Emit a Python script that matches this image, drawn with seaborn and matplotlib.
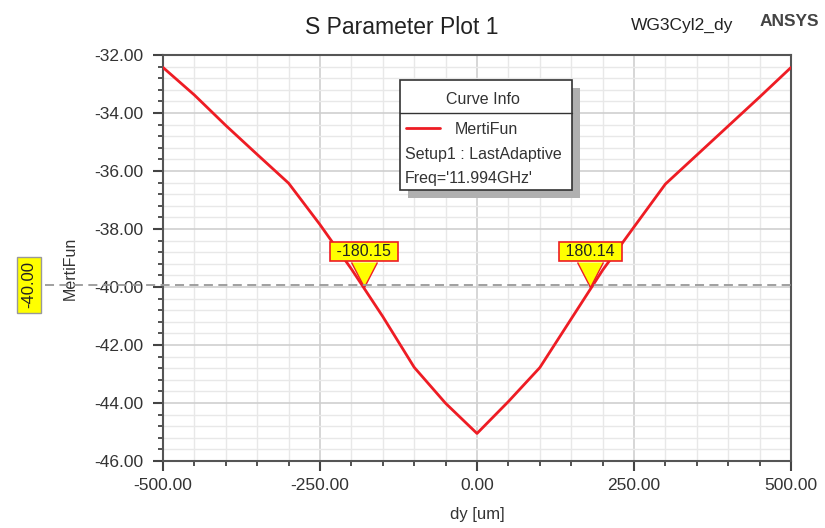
import numpy as np
import pandas as pd
import matplotlib
matplotlib.use("Agg")
import matplotlib.pyplot as plt
import seaborn as sns
from matplotlib.path import Path
from matplotlib.patches import Rectangle
from matplotlib.lines import Line2D
from matplotlib.ticker import MultipleLocator, FormatStrFormatter

dy_um = [-500, -450, -400, -350, -300, -250, -200, -150, -100, -50, 0,
         50, 100, 150, 200, 250, 300, 350, 400, 450, 500]
merti_fun = [-32.43, -33.38, -34.43, -35.43, -36.42, -37.85, -39.38, -41.02, -42.77, -44.01, -45.05,
             -43.95, -42.78, -41.10, -39.42, -37.93, -36.45, -35.45, -34.45, -33.45, -32.43]
threshold = -40.0
crossings = [-180.15, 180.14]
crossing_labels = ["-180.15", "180.14"]
curve_name = "MertiFun"
setup_name = "Setup1 : LastAdaptive"
freq_text = "Freq='11.994GHz'"

df = pd.DataFrame({"dy": dy_um, "val": merti_fun})

# --- STYLE ---
sns.set_style("white")
plt.rcParams['font.family'] = ['Liberation Sans', 'DejaVu Sans']

W, H = 825, 528
fig = plt.figure(figsize=(W / 100, H / 100), dpi=100)


def fx(px):
    return px / W


def fy(py):
    return 1 - py / H


ax = fig.add_axes([fx(163), fy(461), fx(791) - fx(163), fy(55) - fy(461)])

# grid
ax.set_xlim(-500, 500)
ax.set_ylim(-46, -32)
ax.xaxis.set_major_locator(MultipleLocator(250))
ax.xaxis.set_minor_locator(MultipleLocator(50))
ax.yaxis.set_major_locator(MultipleLocator(2))
ax.yaxis.set_minor_locator(MultipleLocator(0.4))
ax.xaxis.set_major_formatter(FormatStrFormatter("%.2f"))
ax.yaxis.set_major_formatter(FormatStrFormatter("%.2f"))
ax.grid(which="major", color="#cfcfcf", linewidth=1.2)
ax.grid(which="minor", color="#e8e8e8", linewidth=1.0)
ax.set_axisbelow(True)

# threshold dashed line, runs out into the left margin
fig.add_artist(Line2D([fx(45), fx(791)], [fy(285), fy(285)], color="#999999",
                      linestyle=(0, (5, 3)), linewidth=1.3, zorder=3))

# curve
sns.lineplot(data=df, x="dy", y="val", ax=ax, color="#ee1c24", linewidth=2.0, zorder=4)

for s in ax.spines.values():
    s.set_color("#555555")
    s.set_linewidth(1.5)

ax.tick_params(which="both", left=True, bottom=True)
ax.tick_params(which="major", direction="out", length=7, width=1.5, color="#444444",
               labelsize=12.5, labelcolor="#333333")
ax.tick_params(which="minor", direction="out", length=3.5, width=1.3, color="#444444")
ax.tick_params(axis="x", which="major", pad=5)
ax.tick_params(axis="y", which="major", pad=7)

ax.set_xlabel("dy [um]", fontsize=12, color="#333333")
ax.set_ylabel("MertiFun", fontsize=11.5, color="#333333")
ax.xaxis.set_label_coords(0.5, (461 - 507) / 406)
ax.yaxis.set_label_coords((78 - 163) / 628, (461 - 268) / 406)

# markers at the threshold crossings
tri = Path([(-0.57, 1.1), (0, 0), (0.57, 1.1)],
           [Path.MOVETO, Path.LINETO, Path.LINETO])
for xc, lab in zip(crossings, crossing_labels):
    ax.annotate(" " + lab + " ", xy=(xc, threshold), xytext=(0, 25.5), textcoords="offset points",
                ha="center", va="center", fontsize=11.5, color="#222222", zorder=6,
                bbox=dict(boxstyle="square,pad=0.15", fc="#ffff00", ec="#ee1c24", lw=1.2))
    ax.plot([xc], [threshold], marker=tri, markersize=36, markerfacecolor="#ffff00",
            markeredgecolor="#ee1c24", markeredgewidth=1.0, linestyle="none", zorder=7,
            clip_on=False)

# yellow y-value tag at the left
fig.text(fx(29), fy(285), "-40.00", rotation=90, ha="center", va="center", fontsize=12,
         color="#222222", bbox=dict(boxstyle="square,pad=0.25", fc="#ffff00", ec="#999999", lw=1))

# Curve Info box
bx0, by0, bx1, by1 = 400, 80, 572, 190
fig.add_artist(Rectangle((fx(bx0 + 8), fy(by1 + 8)), fx(bx1 - bx0), fy(by0) - fy(by1),
                         fc="#b0b0b0", ec="none", zorder=8))
fig.add_artist(Rectangle((fx(bx0), fy(by1)), fx(bx1 - bx0), fy(by0) - fy(by1),
                         fc="white", ec="#333333", lw=1.2, zorder=9))
fig.add_artist(Line2D([fx(bx0), fx(bx1)], [fy(113), fy(113)], color="#333333", lw=1.0, zorder=10))
fig.text(fx(483), fy(99), "Curve Info", ha="center", va="center", fontsize=11.5, color="#333333", zorder=11)
fig.add_artist(Line2D([fx(406), fx(440)], [fy(128), fy(128)], color="#ee1c24", lw=2.0, zorder=10))
fig.text(fx(455), fy(130), curve_name, ha="left", va="center", fontsize=11.5, color="#333333", zorder=11)
fig.text(fx(405), fy(154), setup_name, ha="left", va="center", fontsize=11.5, color="#333333", zorder=11)
fig.text(fx(405), fy(178), freq_text, ha="left", va="center", fontsize=11.5, color="#333333", zorder=11)

# titles
fig.text(fx(402), fy(28), "S Parameter Plot 1", ha="center", va="center", fontsize=16.5, color="#222222")
fig.text(fx(682), fy(25), "WG3Cyl2_dy", ha="center", va="center", fontsize=12.5, color="#222222")
fig.text(fx(789), fy(22), "ANSYS", ha="center", va="center", fontsize=12.5, color="#444444",
         fontweight="bold")

fig.savefig("out.png", dpi=100, facecolor="white")
